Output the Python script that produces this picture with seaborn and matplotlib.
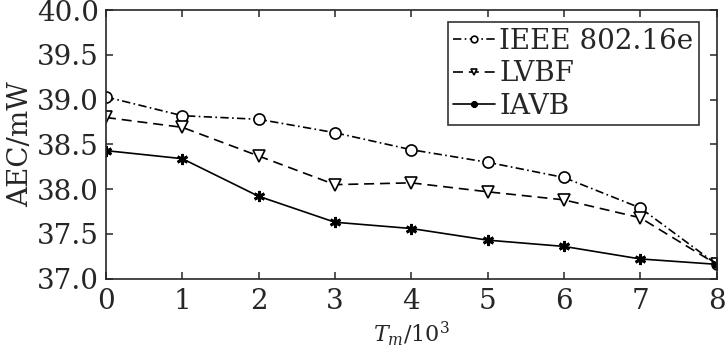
import pandas as pd
import matplotlib
matplotlib.use("Agg")
import matplotlib.pyplot as plt
import seaborn as sns

# ── data ─────────────────────────────────────────────────────────────────
tm = [0, 1, 2, 3, 4, 5, 6, 7, 8]
ieee = [39.03, 38.82, 38.78, 38.63, 38.44, 38.30, 38.13, 37.79, 37.16]
lvbf = [38.80, 38.69, 38.37, 38.05, 38.07, 37.97, 37.88, 37.68, 37.16]
iavb = [38.43, 38.34, 37.92, 37.63, 37.56, 37.43, 37.36, 37.22, 37.16]
series_names = ["IEEE 802.16e", "LVBF", "IAVB"]
y_ticks = [37.0, 37.5, 38.0, 38.5, 39.0, 39.5, 40.0]

df = pd.DataFrame({
    "tm": tm * 3,
    "aec": ieee + lvbf + iavb,
    "scheme": [n for n in series_names for _ in tm],
})

sns.set_theme(style="ticks")
plt.rcParams["font.family"] = ["DejaVu Serif"]
plt.rcParams["mathtext.fontset"] = "dejavuserif"
plt.rcParams["axes.linewidth"] = 1.2

FS = 20
ASTERISK = (6, 2, 0)

fig = plt.figure(figsize=(7.26, 3.47), dpi=100)
ax = fig.add_axes([0.146, 0.197, 0.841, 0.774])

sns.lineplot(
    data=df, x="tm", y="aec", hue="scheme", style="scheme",
    palette={n: "black" for n in series_names},
    markers={"IEEE 802.16e": "o", "LVBF": "v", "IAVB": "*"},
    dashes={"IEEE 802.16e": (5, 2, 1, 2), "LVBF": (6, 3.5), "IAVB": ""},
    markersize=8, markerfacecolor="white", markeredgecolor="black",
    markeredgewidth=1.2, linewidth=1.2, ax=ax, legend=True,
)


def to_asterisk(line, ew):
    if line.get_marker() == "*":
        line.set_marker(ASTERISK)
        line.set_markeredgewidth(ew)


for line in ax.get_lines():
    to_asterisk(line, 2.0)

ax.set_xlim(0, 8)
ax.set_ylim(37.0, 40.0)
ax.set_xticks(tm)
ax.set_yticks(y_ticks)
ax.set_yticklabels([f"{v:.1f}" for v in y_ticks])
ax.tick_params(direction="in", top=True, right=True, length=5, width=1.1,
               labelsize=FS, pad=5)
ax.tick_params(axis="x", pad=7)
ax.set_xlabel("$T_m$/10$^3$", fontsize=16)
ax.xaxis.set_label_coords(0.5, -0.15)
ax.set_ylabel("AEC/mW", fontsize=FS, labelpad=2)

handles, labels = ax.get_legend_handles_labels()
for h in handles:
    to_asterisk(h, 1.6)
leg = ax.legend(handles, labels, loc="upper right", bbox_to_anchor=(0.971, 0.955),
                fontsize=FS, frameon=True, fancybox=False, edgecolor="black",
                handlelength=1.5, handletextpad=0.15, borderpad=0.2,
                labelspacing=0.2, markerscale=0.6, borderaxespad=0)
leg.get_frame().set_linewidth(1.2)

fig.savefig("out.png", dpi=100)
